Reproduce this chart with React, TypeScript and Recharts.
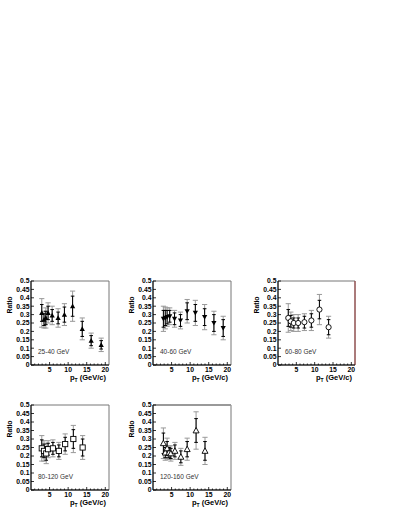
import { ScatterChart, Scatter, XAxis, YAxis, ErrorBar, ReferenceArea, ReferenceLine } from 'recharts'

// pT bin centres, ratio, statistical and systematic errors for each jet-energy window
const pt1 = [2.9, 3.5, 4.0, 4.6, 5.7, 7.3, 9.0, 11.2, 13.8, 16.2, 18.9]
const ratio1 = [0.31, 0.27, 0.28, 0.31, 0.295, 0.28, 0.3, 0.35, 0.215, 0.145, 0.12]
const stat1 = [0.05, 0.035, 0.04, 0.04, 0.035, 0.035, 0.045, 0.06, 0.045, 0.03, 0.025]
const sys1 = [0.085, 0.05, 0.06, 0.06, 0.055, 0.055, 0.065, 0.09, 0.065, 0.045, 0.04]

const pt2 = [2.8, 3.3, 3.8, 4.5, 5.8, 7.4, 9.2, 11.4, 13.9, 16.4, 18.9]
const ratio2 = [0.275, 0.28, 0.285, 0.29, 0.275, 0.265, 0.32, 0.31, 0.285, 0.25, 0.22]
const stat2 = [0.05, 0.045, 0.04, 0.035, 0.035, 0.035, 0.05, 0.05, 0.05, 0.05, 0.05]
const sys2 = [0.075, 0.065, 0.055, 0.05, 0.05, 0.05, 0.07, 0.075, 0.075, 0.07, 0.07]

const pt3 = [2.8, 3.5, 4.3, 5.5, 7.2, 9.1, 11.3, 13.8]
const ratio3 = [0.28, 0.26, 0.25, 0.25, 0.255, 0.265, 0.33, 0.225]
const stat3 = [0.05, 0.035, 0.03, 0.03, 0.035, 0.04, 0.055, 0.045]
const sys3 = [0.085, 0.055, 0.05, 0.05, 0.05, 0.06, 0.09, 0.065]

const pt4 = [2.9, 3.5, 4.1, 4.6, 5.9, 7.5, 9.2, 11.4, 13.9]
const ratio4 = [0.245, 0.23, 0.215, 0.24, 0.245, 0.23, 0.27, 0.3, 0.25]
const stat4 = [0.05, 0.04, 0.04, 0.035, 0.035, 0.035, 0.04, 0.055, 0.05]
const sys4 = [0.075, 0.06, 0.06, 0.05, 0.05, 0.05, 0.06, 0.08, 0.07]

const pt5 = [2.8, 3.3, 3.8, 4.3, 4.8, 5.9, 7.5, 9.2, 11.6, 14.0]
const ratio5 = [0.275, 0.22, 0.245, 0.22, 0.215, 0.23, 0.195, 0.24, 0.35, 0.23]
const stat5 = [0.06, 0.03, 0.04, 0.03, 0.03, 0.035, 0.035, 0.045, 0.07, 0.055]
const sys5 = [0.09, 0.045, 0.06, 0.04, 0.045, 0.05, 0.05, 0.065, 0.11, 0.08]

const yTicks = [0, 0.05, 0.1, 0.15, 0.2, 0.25, 0.3, 0.35, 0.4, 0.45, 0.5]
const xTicks = [1, 2, 3, 4, 5, 6, 7, 8, 9, 10, 11, 12, 13, 14, 15, 16, 17, 18, 19, 20]
const xLabels = [5, 10, 15, 20]

const FONT = '"Liberation Sans", Arial, sans-serif'
const MT = 9
const YW = 31

function rows(pt: number[], r: number[], st: number[], sy: number[]) {
    return pt.map((x, i) => ({ x, y: r[i], stat: st[i], sys: sy[i] }))
}

type Marker = 'tri' | 'triDown' | 'circle' | 'square' | 'openTri'

function markerShape(kind: Marker) {
    return (props: any) => {
        const { cx, cy } = props
        const s = 2.6
        if (kind === 'tri')
            return <path d={`M${cx},${cy - s} L${cx + s},${cy + s * 0.8} L${cx - s},${cy + s * 0.8} Z`} fill="#000" />
        if (kind === 'triDown')
            return <path d={`M${cx},${cy + s} L${cx + s},${cy - s * 0.8} L${cx - s},${cy - s * 0.8} Z`} fill="#000" />
        if (kind === 'circle')
            return <circle cx={cx} cy={cy} r={2.6} fill="#fff" stroke="#000" strokeWidth={0.9} />
        if (kind === 'square')
            return <rect x={cx - 2.6} y={cy - 2.6} width={5.2} height={5.2} fill="#fff" stroke="#000" strokeWidth={0.9} />
        return <path d={`M${cx},${cy - 3} L${cx + 3},${cy + 2.4} L${cx - 3},${cy + 2.4} Z`} fill="#fff" stroke="#000" strokeWidth={0.9} />
    }
}

interface PanelProps {
    left: number
    top: number
    pw: number
    ph: number
    data: { x: number; y: number; stat: number; sys: number }[]
    marker: Marker
    label: string
    rightColor?: string
    topWidth?: number
}

function Panel({ left, top, pw, ph, data, marker, label, rightColor, topWidth }: PanelProps) {
    const axisY = MT + ph
    return (
        <>
            <div style={{ position: 'absolute', left: left - YW, top: top - MT }}>
                <ScatterChart width={YW + pw + 14} height={MT + ph + 24} margin={{ top: MT, right: 14, left: 0, bottom: 0 }}>
                    <ReferenceArea x1={0} x2={21} y1={0} y2={0.5} fill="none" stroke="#777" strokeWidth={1} />
                    {rightColor && <ReferenceLine x={21} stroke={rightColor} strokeWidth={1} />}
                    {topWidth && <ReferenceLine y={0.5} stroke="#999" strokeWidth={topWidth} />}
                    <XAxis
                        type="number"
                        dataKey="x"
                        domain={[0, 21]}
                        ticks={xTicks}
                        interval={0}
                        height={24}
                        axisLine={{ stroke: '#000', strokeWidth: 1 }}
                        tickLine={false}
                        tick={(p: any) => {
                            const v = p.payload.value
                            const major = xLabels.includes(v)
                            const cx = p.payload.coordinate
                            return (
                                <g>
                                    <line x1={cx} x2={cx} y1={axisY} y2={axisY - (major ? 3 : 1.5)} stroke="#000" strokeWidth={0.8} />
                                    {major && (
                                        <text x={cx} y={axisY + 7} textAnchor="middle" fontFamily={FONT} fontWeight="bold" fontSize={6.8} fill="#000">
                                            {v}
                                        </text>
                                    )}
                                </g>
                            )
                        }}
                    />
                    <YAxis
                        type="number"
                        dataKey="y"
                        domain={[0, 0.5]}
                        ticks={yTicks}
                        interval={0}
                        width={YW}
                        axisLine={{ stroke: '#000', strokeWidth: 1 }}
                        tickLine={false}
                        tick={(p: any) => {
                            const v = p.payload.value
                            const cy = p.payload.coordinate
                            return (
                                <g>
                                    <line x1={YW} x2={YW + 3} y1={cy} y2={cy} stroke="#000" strokeWidth={0.8} />
                                    <text x={YW - 1.5} y={cy + 2.4} textAnchor="end" fontFamily={FONT} fontWeight="bold" fontSize={6.8} fill="#000">
                                        {v === 0 ? '0' : String(+v.toFixed(2))}
                                    </text>
                                </g>
                            )
                        }}
                    />
                    <Scatter data={data} dataKey="y" shape={markerShape(marker)} isAnimationActive={false}>
                        <ErrorBar dataKey="sys" direction="y" width={2.6} stroke="#999" strokeWidth={1} isAnimationActive={false} />
                        <ErrorBar dataKey="stat" direction="y" width={1.8} stroke="#000" strokeWidth={1} isAnimationActive={false} />
                    </Scatter>
                </ScatterChart>
            </div>
            <div
                style={{
                    position: 'absolute',
                    left: left - 22,
                    top: top + 24,
                    transform: 'translate(-50%, -50%) rotate(-90deg)',
                    fontFamily: FONT,
                    fontWeight: 'bold',
                    fontSize: 6.8,
                    whiteSpace: 'nowrap',
                }}
            >
                Ratio
            </div>
            <div
                style={{
                    position: 'absolute',
                    right: 400 - (left + pw - 3),
                    top: top + ph + 8,
                    fontFamily: FONT,
                    fontWeight: 'bold',
                    fontSize: 7.5,
                    lineHeight: '10px',
                    whiteSpace: 'nowrap',
                }}
            >
                p<sub style={{ fontSize: 5, verticalAlign: -2 }}>T</sub> (GeV/c)
            </div>
            <div
                style={{
                    position: 'absolute',
                    left: left + 7,
                    top: top + ph - 17,
                    fontFamily: FONT,
                    fontSize: 6.5,
                    color: '#333',
                    lineHeight: '8px',
                    whiteSpace: 'nowrap',
                }}
            >
                {label}
            </div>
        </>
    )
}

export default function App() {
    return (
        <div style={{ position: 'absolute', left: 0, top: 0, width: 400, height: 518, background: '#fff', overflow: 'hidden' }}>
            <Panel left={31} top={281} pw={78} ph={84} data={rows(pt1, ratio1, stat1, sys1)} marker="tri" label="25-40 GeV" />
            <Panel left={153} top={281} pw={78} ph={84} data={rows(pt2, ratio2, stat2, sys2)} marker="triDown" label="40-60 GeV" />
            <Panel left={278} top={281} pw={77} ph={84} data={rows(pt3, ratio3, stat3, sys3)} marker="circle" label="60-80 GeV" rightColor="#9a3a3a" />
            <Panel left={31} top={405} pw={78} ph={85} data={rows(pt4, ratio4, stat4, sys4)} marker="square" label="80-120 GeV" />
            <Panel left={153} top={405} pw={78} ph={85} data={rows(pt5, ratio5, stat5, sys5)} marker="openTri" label="120-160 GeV" topWidth={2} />
        </div>
    )
}
